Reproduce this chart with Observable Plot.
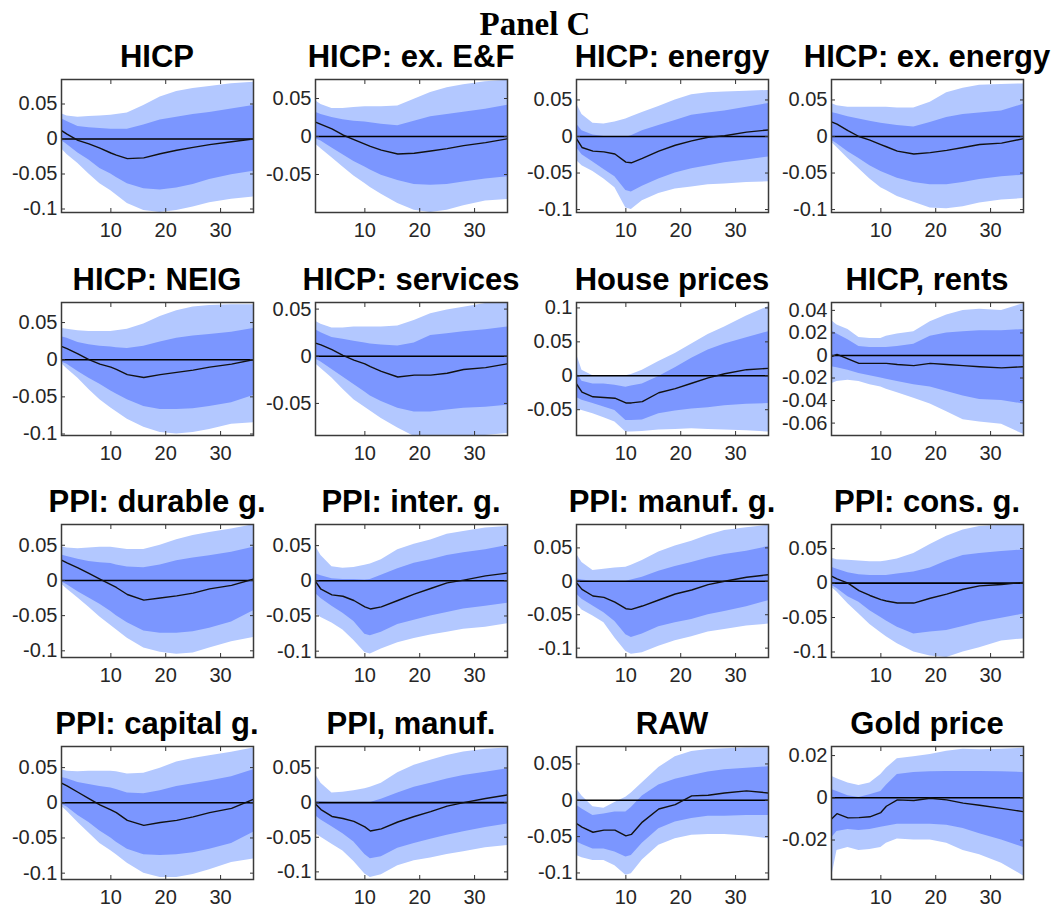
<!DOCTYPE html>
<html>
<head>
<meta charset="utf-8">
<script src="https://cdn.jsdelivr.net/npm/d3@7"></script>
<script src="https://cdn.jsdelivr.net/npm/@observablehq/plot@0.6"></script>
<style>
  html, body { margin: 0; padding: 0; background: #fff; }
  #page { position: relative; width: 1057px; height: 908px; overflow: hidden; background: #fff; }
  .ttl { position: absolute; width: 320px; text-align: center; font-family: "Liberation Sans", Arial, sans-serif; font-weight: bold; font-size: 31px; line-height: 31px; color: #000; white-space: nowrap; }
  #main { position: absolute; left: 385px; top: 8px; width: 300px; text-align: center; font-family: "Liberation Serif", "Times New Roman", serif; font-weight: bold; font-size: 33px; line-height: 33px; color: #000; }
  .pnl { position: absolute; }
</style>
</head>
<body>
<div id="page"><div id="main">Panel C</div></div>
<script>
// horizons (x positions) at which values were read
const steps = [1, 2, 4, 6, 8, 10, 11, 13, 16, 19, 22, 25, 28, 32, 36];

const titles = ["HICP", "HICP: ex. E&F", "HICP: energy", "HICP: ex. energy",
  "HICP: NEIG", "HICP: services", "House prices", "HICP, rents",
  "PPI: durable g.", "PPI: inter. g.", "PPI: manuf. g.", "PPI: cons. g.",
  "PPI: capital g.", "PPI, manuf.", "RAW", "Gold price"];

const yDomains = [
  [-0.105, 0.085], [-0.100, 0.075], [-0.104, 0.078], [-0.104, 0.078],
  [-0.102, 0.077], [-0.084, 0.057], [-0.088, 0.108], [-0.071, 0.047],
  [-0.1095, 0.0795], [-0.109, 0.080], [-0.114, 0.085], [-0.108, 0.085],
  [-0.109, 0.080], [-0.111, 0.081], [-0.109, 0.074], [-0.0387, 0.0243]];

const yTicks = [
  [0.05, 0, -0.05, -0.1], [0.05, 0, -0.05], [0.05, 0, -0.05, -0.1], [0.05, 0, -0.05, -0.1],
  [0.05, 0, -0.05, -0.1], [0.05, 0, -0.05], [0.1, 0.05, 0, -0.05], [0.04, 0.02, 0, -0.02, -0.04, -0.06],
  [0.05, 0, -0.05, -0.1], [0.05, 0, -0.05, -0.1], [0.05, 0, -0.05, -0.1], [0.05, 0, -0.05, -0.1],
  [0.05, 0, -0.05, -0.1], [0.05, 0, -0.05, -0.1], [0.05, 0, -0.05, -0.1], [0.02, 0, -0.02]];

const xTicks = [10, 20, 30];

// each: [outer upper, inner upper, median, inner lower, outer lower]
const hicp = [
  [.036,.033,.031,.032,.033,.034,.035,.037,.048,.060,.068,.072,.075,.079,.081],
  [.029,.025,.018,.016,.015,.014,.014,.014,.020,.027,.031,.035,.038,.043,.048],
  [.012,.007,-.002,-.007,-.013,-.020,-.023,-.028,-.027,-.021,-.016,-.012,-.008,-.004,.000],
  [-.002,-.008,-.020,-.030,-.042,-.050,-.055,-.064,-.071,-.073,-.070,-.065,-.058,-.051,-.046],
  [-.014,-.022,-.035,-.050,-.064,-.074,-.080,-.092,-.102,-.105,-.102,-.097,-.091,-.086,-.083]];
const hicpExEF = [
  [.047,.042,.037,.037,.038,.039,.039,.039,.040,.049,.058,.064,.068,.072,.074],
  [.032,.029,.025,.022,.020,.019,.018,.016,.014,.020,.026,.029,.032,.036,.041],
  [.019,.016,.010,.002,-.004,-.010,-.013,-.018,-.023,-.022,-.019,-.016,-.012,-.008,-.003],
  [-.003,-.006,-.015,-.024,-.033,-.040,-.044,-.051,-.058,-.063,-.064,-.063,-.060,-.056,-.053],
  [-.010,-.016,-.028,-.040,-.052,-.062,-.067,-.076,-.088,-.097,-.100,-.097,-.091,-.085,-.083]];
const hicpEnergy = [
  [.045,.030,.018,.017,.020,.024,.027,.033,.041,.050,.057,.060,.061,.062,.063],
  [.017,.008,.002,.000,.000,-.001,.001,.008,.015,.022,.029,.032,.035,.040,.045],
  [-.003,-.015,-.020,-.021,-.024,-.035,-.036,-.030,-.020,-.012,-.006,-.001,.001,.006,.009],
  [-.015,-.025,-.035,-.045,-.055,-.074,-.076,-.068,-.058,-.050,-.044,-.040,-.036,-.032,-.028],
  [-.033,-.040,-.048,-.058,-.070,-.098,-.100,-.088,-.078,-.072,-.069,-.066,-.065,-.063,-.062]];
const hicpExEnergy = [
  [.045,.042,.040,.040,.040,.040,.040,.039,.039,.047,.060,.066,.070,.071,.072],
  [.033,.031,.027,.024,.021,.018,.017,.015,.013,.019,.026,.030,.032,.035,.044],
  [.020,.017,.008,.000,-.005,-.011,-.014,-.020,-.024,-.022,-.019,-.015,-.011,-.009,-.003],
  [-.005,-.010,-.021,-.030,-.040,-.048,-.051,-.057,-.063,-.066,-.066,-.063,-.059,-.055,-.053],
  [-.008,-.015,-.030,-.044,-.058,-.070,-.074,-.082,-.090,-.098,-.099,-.096,-.091,-.087,-.085]];
const hicpNeig = [
  [.042,.041,.039,.038,.038,.038,.039,.041,.048,.058,.066,.071,.073,.074,.074],
  [.031,.029,.023,.020,.018,.017,.016,.015,.018,.024,.029,.032,.034,.037,.042],
  [.018,.015,.008,.000,-.006,-.010,-.013,-.020,-.024,-.020,-.017,-.014,-.010,-.006,.000],
  [-.003,-.006,-.016,-.025,-.033,-.042,-.046,-.054,-.063,-.067,-.067,-.066,-.063,-.058,-.048],
  [-.005,-.012,-.025,-.040,-.054,-.065,-.070,-.080,-.091,-.098,-.100,-.098,-.094,-.087,-.085]];
const hicpServices = [
  [.037,.034,.030,.030,.031,.031,.031,.031,.032,.038,.045,.049,.052,.056,.060],
  [.028,.025,.020,.018,.016,.014,.013,.012,.011,.014,.022,.024,.026,.028,.031],
  [.014,.012,.007,.001,-.004,-.008,-.011,-.016,-.022,-.020,-.020,-.018,-.014,-.012,-.008],
  [-.003,-.006,-.014,-.022,-.030,-.038,-.042,-.048,-.055,-.059,-.059,-.057,-.055,-.054,-.052],
  [-.008,-.013,-.023,-.035,-.046,-.054,-.058,-.066,-.076,-.085,-.088,-.088,-.086,-.084,-.082]];
const housePrices = [
  [.032,.008,.000,-.001,-.001,.000,.002,.008,.021,.033,.047,.061,.072,.088,.102],
  [.005,-.008,-.012,-.012,-.014,-.017,-.015,-.012,-.001,.012,.026,.038,.047,.056,.065],
  [-.012,-.024,-.031,-.032,-.033,-.040,-.040,-.038,-.025,-.019,-.011,-.003,.003,.009,.011],
  [-.032,-.036,-.041,-.046,-.051,-.066,-.066,-.065,-.056,-.052,-.049,-.047,-.044,-.042,-.041],
  [-.049,-.051,-.056,-.062,-.068,-.083,-.083,-.082,-.080,-.079,-.078,-.079,-.080,-.081,-.083]];
const hicpRents = [
  [.031,.027,.023,.016,.015,.015,.017,.019,.021,.030,.036,.040,.041,.040,.046],
  [.022,.019,.014,.008,.007,.007,.007,.008,.010,.017,.020,.021,.022,.022,.023],
  [-.001,.001,-.003,-.007,-.007,-.007,-.007,-.008,-.009,-.007,-.008,-.009,-.010,-.011,-.010],
  [-.010,-.011,-.013,-.016,-.018,-.020,-.021,-.023,-.026,-.028,-.032,-.036,-.039,-.040,-.043],
  [-.025,-.023,-.022,-.023,-.026,-.028,-.030,-.033,-.038,-.043,-.050,-.057,-.059,-.061,-.070]];
const ppiDurable = [
  [.048,.046,.045,.046,.047,.047,.046,.044,.044,.050,.058,.064,.068,.073,.079],
  [.036,.034,.030,.027,.025,.024,.022,.019,.018,.022,.028,.032,.035,.040,.047],
  [.029,.025,.018,.010,.002,-.006,-.010,-.020,-.028,-.025,-.022,-.018,-.012,-.007,.002],
  [-.002,-.006,-.016,-.025,-.034,-.044,-.050,-.060,-.072,-.075,-.075,-.073,-.068,-.059,-.043],
  [-.005,-.012,-.025,-.038,-.052,-.064,-.070,-.082,-.096,-.102,-.105,-.103,-.096,-.087,-.081]];
const ppiInter = [
  [.049,.036,.020,.018,.019,.022,.024,.030,.044,.052,.058,.066,.070,.075,.077],
  [.010,.007,.003,.002,.002,.001,.002,.008,.017,.025,.030,.036,.040,.044,.050],
  [-.001,-.012,-.020,-.022,-.028,-.037,-.040,-.037,-.028,-.019,-.011,-.003,.001,.007,.011],
  [-.018,-.025,-.036,-.046,-.058,-.076,-.078,-.073,-.062,-.056,-.050,-.045,-.040,-.036,-.032],
  [-.047,-.052,-.060,-.070,-.085,-.102,-.104,-.097,-.088,-.082,-.077,-.073,-.069,-.066,-.061]];
const ppiManufG = [
  [.041,.028,.016,.018,.020,.021,.024,.031,.044,.053,.060,.069,.076,.080,.084],
  [.004,.002,.000,.000,.000,.000,.002,.006,.015,.022,.028,.035,.040,.045,.052],
  [-.002,-.012,-.022,-.024,-.031,-.041,-.042,-.037,-.028,-.019,-.013,-.005,.000,.006,.010],
  [-.019,-.027,-.037,-.047,-.060,-.080,-.084,-.079,-.068,-.062,-.057,-.050,-.045,-.038,-.029],
  [-.034,-.043,-.052,-.062,-.085,-.105,-.109,-.107,-.097,-.089,-.083,-.076,-.072,-.067,-.064]];
const ppiCons = [
  [.036,.034,.033,.032,.031,.031,.032,.035,.043,.056,.068,.077,.082,.084,.084],
  [.023,.020,.015,.012,.011,.011,.011,.013,.016,.022,.032,.040,.043,.046,.048],
  [.010,.006,.000,-.011,-.018,-.024,-.026,-.029,-.029,-.022,-.016,-.009,-.004,-.002,.001],
  [-.003,-.008,-.020,-.028,-.040,-.050,-.055,-.064,-.074,-.071,-.069,-.063,-.057,-.051,-.045],
  [-.006,-.013,-.030,-.045,-.060,-.072,-.078,-.088,-.100,-.106,-.108,-.100,-.094,-.084,-.081]];
const ppiCapital = [
  [.047,.045,.044,.045,.045,.045,.044,.041,.042,.049,.058,.063,.067,.072,.078],
  [.036,.034,.029,.026,.023,.021,.019,.014,.013,.017,.023,.027,.031,.037,.047],
  [.028,.024,.015,.006,-.003,-.010,-.014,-.025,-.032,-.028,-.025,-.020,-.014,-.008,.005],
  [-.002,-.006,-.018,-.028,-.040,-.050,-.056,-.066,-.074,-.075,-.074,-.071,-.066,-.058,-.042],
  [-.005,-.012,-.028,-.043,-.058,-.068,-.074,-.086,-.100,-.106,-.106,-.102,-.095,-.085,-.080]];
const ppiManuf = [
  [.041,.028,.014,.015,.017,.020,.022,.028,.043,.054,.061,.068,.073,.077,.079],
  [.002,.001,.000,.000,-.001,-.001,.000,.005,.014,.022,.028,.034,.039,.044,.049],
  [-.002,-.010,-.020,-.023,-.027,-.035,-.041,-.038,-.028,-.020,-.013,-.005,.000,.006,.011],
  [-.019,-.025,-.035,-.045,-.057,-.075,-.081,-.078,-.066,-.059,-.053,-.047,-.042,-.036,-.031],
  [-.045,-.050,-.060,-.070,-.085,-.103,-.108,-.104,-.091,-.084,-.080,-.075,-.071,-.065,-.062]];
const raw = [
  [.016,.006,-.009,-.011,-.003,.004,.010,.024,.045,.060,.067,.070,.071,.072,.072],
  [-.007,-.012,-.021,-.019,-.016,-.016,-.010,.006,.021,.029,.034,.039,.042,.044,.046],
  [-.032,-.037,-.044,-.041,-.041,-.049,-.047,-.030,-.012,-.006,.006,.007,.010,.013,.010],
  [-.057,-.061,-.067,-.067,-.071,-.078,-.076,-.059,-.039,-.030,-.025,-.022,-.022,-.021,-.021],
  [-.076,-.079,-.083,-.083,-.090,-.103,-.101,-.082,-.062,-.053,-.048,-.047,-.047,-.049,-.053]];
const gold = [
  [.0102,.0090,.0070,.0058,.0070,.0110,.0140,.0185,.0195,.0205,.0220,.0230,.0228,.0230,.0235],
  [.0039,.0030,.0010,.0002,.0015,.0030,.0060,.0110,.0120,.0123,.0125,.0125,.0125,.0123,.0120],
  [-.0100,-.0075,-.0095,-.0094,-.0090,-.0070,-.0040,-.0010,-.0013,-.0002,-.0010,-.0025,-.0035,-.0050,-.0066],
  [-.0190,-.0160,-.0150,-.0155,-.0150,-.0140,-.0135,-.0125,-.0125,-.0125,-.0130,-.0145,-.0170,-.0200,-.0235],
  [-.0380,-.0250,-.0235,-.0250,-.0245,-.0235,-.0215,-.0195,-.0200,-.0200,-.0215,-.0250,-.0270,-.0310,-.0370]];

const series = [hicp, hicpExEF, hicpEnergy, hicpExEnergy, hicpNeig, hicpServices, housePrices, hicpRents,
  ppiDurable, ppiInter, ppiManufG, ppiCons, ppiCapital, ppiManuf, raw, gold];

// layout (pixel geometry of the plotting frames)
const colLeft = [61, 315, 576, 831];
const rowTop = [79, 302, 524, 746];
const frameW = 192, frameH = 133;
const mL = 60, mR = 10, mT = 10, mB = 36;

const OUTER = "#b3c8ff", INNER = "#7b96ff";
const fmt = d => String(d);
const page = document.getElementById("page");

series.forEach((s, i) => {
  const r = Math.floor(i / 4), c = i % 4;
  const rows = steps.map((x, j) => ({x, oU: s[0][j], iU: s[1][j], md: s[2][j], iL: s[3][j], oL: s[4][j]}));
  const chart = Plot.plot({
    width: frameW + mL + mR,
    height: frameH + mT + mB,
    marginLeft: mL, marginRight: mR, marginTop: mT, marginBottom: mB,
    style: {background: "transparent", overflow: "visible", fontFamily: "'Liberation Sans', Arial, sans-serif", fontSize: "20px", color: "#262626"},
    x: {domain: [1, 36]},
    y: {domain: yDomains[i]},
    marks: [
      Plot.areaY(rows, {x: "x", y1: "oL", y2: "oU", fill: OUTER, clip: true}),
      Plot.areaY(rows, {x: "x", y1: "iL", y2: "iU", fill: INNER, clip: true}),
      Plot.ruleY([0], {stroke: "#000", strokeWidth: 1.6}),
      Plot.line(rows, {x: "x", y: "md", stroke: "#111", strokeWidth: 1.4, clip: true}),
      Plot.axisY(yTicks[i], {anchor: "left", tickSize: 0, tickPadding: 4, tickFormat: fmt, label: null}),
      Plot.axisY(yTicks[i], {anchor: "left", tickSize: -4, tickFormat: () => "", label: null, stroke: "#333"}),
      Plot.axisY(yTicks[i], {anchor: "right", tickSize: -4, tickFormat: () => "", label: null, stroke: "#333"}),
      Plot.axisX(xTicks, {anchor: "bottom", tickSize: 0, tickPadding: 10, tickFormat: fmt, label: null}),
      Plot.axisX(xTicks, {anchor: "bottom", tickSize: -4, tickFormat: () => "", label: null, stroke: "#333"}),
      Plot.axisX(xTicks, {anchor: "top", tickSize: -4, tickFormat: () => "", label: null, stroke: "#333"}),
      Plot.frame({stroke: "#3a3a3a", strokeWidth: 1.5})
    ]
  });
  chart.classList.add("pnl");
  chart.style.left = (colLeft[c] - mL) + "px";
  chart.style.top = (rowTop[r] - mT) + "px";
  page.appendChild(chart);

  const t = document.createElement("div");
  t.className = "ttl";
  t.textContent = titles[i];
  t.style.left = (colLeft[c] + frameW / 2 - 160) + "px";
  t.style.top = (rowTop[r] - 38) + "px";
  page.appendChild(t);
});
</script>
</body>
</html>
